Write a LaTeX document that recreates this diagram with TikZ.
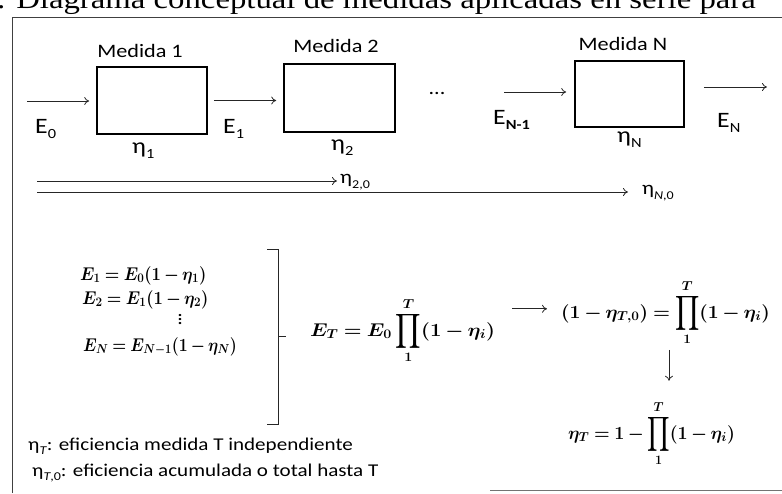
\RequirePackage{fix-cm}
\documentclass[tikz,border=0pt]{standalone}
\usepackage{exscale}
\usepackage[no-math]{fontspec}
\setmainfont{Carlito}[FakeStretch=1.17]
\newfontfamily\capfont{Liberation Serif}[FakeStretch=1.17]
\usepackage{graphicx}
\usetikzlibrary{arrows.meta}
\newcommand{\tsub}[2][14]{\raisebox{-0.25em}{\fontsize{#1}{#1}\selectfont #2}}
\newcommand{\mx}[2][1]{\scalebox{#1}[1]{\boldmath$\displaystyle\medmuskip=3mu\thickmuskip=4mu #2$}}
\newcommand{\bprod}{\mathop{\vcenter{\hbox{\scalebox{1.05}[1.4]{$\displaystyle\prod$}}}}\limits}
\tikzset{
  lbl/.style={inner sep=0pt, font=\fontsize{19}{22}\selectfont},
  big/.style={inner sep=0pt, font=\fontsize{22}{26}\selectfont},
  note/.style={inner sep=0pt, font=\fontsize{18}{21}\selectfont},
  eq/.style={inner sep=0pt, font=\fontsize{18.5}{22}\selectfont},
  box/.style={draw, line width=1.6pt, inner sep=0pt},
  arr/.style={-{To[length=5pt,width=8pt]}, line width=0.8pt, draw=black!85},
  frame/.style={line width=1pt, draw=black!75},
}
\begin{document}
\begin{tikzpicture}[x=1pt,y=-1pt]
\clip (0,0) rectangle (782,493);
\useasboundingbox (0,0) rectangle (782,493);
% caption (cut off at top)
\node[anchor=base west, inner sep=0pt, font=\capfont\fontsize{28}{31}\selectfont] (cap) at (-3,8) {. Diagrama conceptual de medidas aplicadas en serie para};
% frame
\draw[frame] (12,493) -- (12,17) -- (782,17);
\draw[line width=0.8pt, draw=black!55] (490,490) -- (782,490);
% boxes
\node[box, minimum width=110pt, minimum height=67pt] (b1) at (152,100.5) {};
\node[box, minimum width=111pt, minimum height=68pt] (b2) at (339.5,98) {};
\node[box, minimum width=109pt, minimum height=66pt] (bN) at (629.5,94) {};
% titles
\node[lbl, anchor=base] (m1) at (140,57) {Medida 1};
\node[lbl, anchor=base] (m2) at (336,52) {Medida 2};
\node[lbl, anchor=base] (mN) at (623,50) {Medida N};
% flow arrows
\coordinate (s0) at (27,101);
\draw[arr, shorten >=7pt] (s0) -- (s0 -| b1.west);
\draw[arr, shorten <=6pt, shorten >=7pt] (b1.east) -- (b1.east -| b2.west);
\node[lbl] (dots) at (437,93) {...};
\coordinate (sN) at (504,92);
\draw[arr, shorten >=8pt] (sN) -- (sN -| bN.west);
\coordinate (eN) at (767,87);
\draw[arr, shorten <=19pt] (bN.east |- eN) -- (eN);
% E labels
\node[big, anchor=base west] (E0) at (35,133) {E\tsub{0}};
\node[big, anchor=base west] (E1) at (223,133) {E\tsub{1}};
\node[big, anchor=base west] (EN1) at (493,124) {E\tsub{\textbf{N-1}}};
\node[big, anchor=base west] (EN) at (717,127) {E\tsub{N}};
% eta labels
\node[big, anchor=base west] (h1) at (132,153) {η\tsub{1}};
\node[big, anchor=base west] (h2) at (331,150) {η\tsub{2}};
\node[big, anchor=base west] (hN) at (617,142) {η\tsub{N}};
% cumulative arrows
\node[lbl, anchor=west] (h20) at (340,182) {η\tsub[12]{2,0}};
\node[lbl, anchor=west] (hN0) at (642,193) {η\tsub[12]{\textit{N},0}};
\coordinate (l1) at (37,181);
\coordinate (l2) at (37,192);
\draw[arr, shorten >=3pt] (l1) -- (l1 -| h20.west);
\draw[arr, shorten >=14pt] (l2) -- (l2 -| hN0.west);
% equations
\node[eq, anchor=base west] (q1) at (80,280) {\mx[0.9]{E_1 = E_0(1-\eta_1)}};
\node[eq, anchor=base west] (q2) at (82,304) {\mx[0.9]{E_2 = E_1(1-\eta_2)}};
\node[eq, anchor=base] (qd) at (180,324) {\mx{\vdots}};
\node[eq, anchor=base west] (qN) at (83,351) {\mx[0.86]{E_N = E_{N-1}(1-\eta_N)}};
% bracket
\draw[line width=0.9pt, draw=black!85] (267,249) -- (278,249) -- (278,424) -- (267,424);
\draw[line width=0.9pt, draw=black!85] (278,336) -- (286,336);
\node[eq, anchor=base west] (qT) at (310,336) {\mx[1.1]{E_T = E_0 \bprod_{1}^{T}(1-\eta_i)}};
\node[eq, anchor=base west] (q0) at (561,318) {\mx[1.05]{(1-\eta_{T,0}) = \bprod_{1}^{T}(1-\eta_i)}};
\node[eq, anchor=base west] (qR) at (568,439) {\mx[0.97]{\eta_T = 1-\bprod_{1}^{T}(1-\eta_i)}};
\draw[arr, shorten <=17pt, shorten >=14pt] ([yshift=4pt]qT.east |- q0.west) -- ([yshift=4pt]q0.west);
\coordinate (dx) at (669,0);
\draw[arr, shorten <=4pt, shorten >=20pt] (q0.south -| dx) -- (qR.north -| dx);
% notes
\node[note, anchor=base west] (n1) at (28,450) {η\tsub[12]{\textit{T}}: eficiencia medida T independiente};
\node[note, anchor=base west] (n2) at (32,476) {η\tsub[12]{\textit{T},0}: eficiencia acumulada o total hasta T};
\end{tikzpicture}
\end{document}
